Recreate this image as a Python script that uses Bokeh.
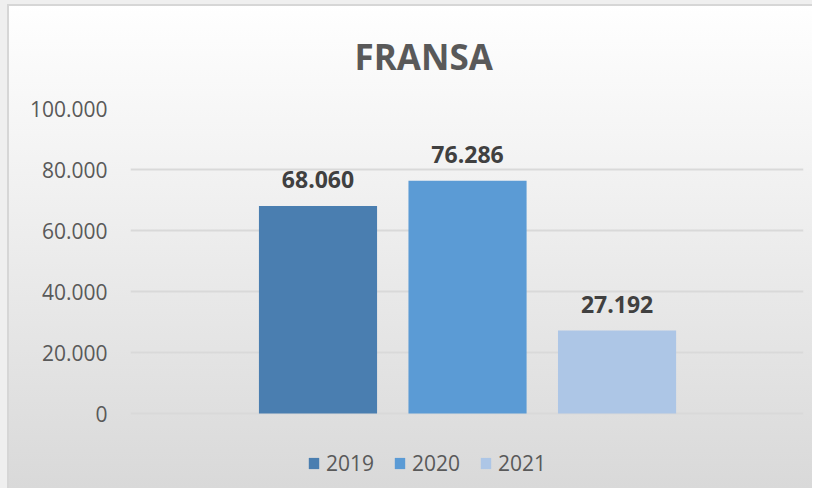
from bokeh.plotting import figure
from bokeh.models import ColumnDataSource, Range1d, Legend, LegendItem, CustomJSTickFormatter, FixedTicker
from bokeh.embed import file_html
from bokeh.resources import INLINE

title_text = "FRANSA"
years = ["2019", "2020", "2021"]
values = [68060, 76286, 27192]
labels = ["68.060", "76.286", "27.192"]
colors = ["#4a7eb0", "#5b9bd5", "#adc6e6"]
positions = [-1, 0, 1]
y_ticks = [0, 20000, 40000, 60000, 80000, 100000]

FONT = "Open Sans"

p = figure(width=812, height=488, output_backend="svg", toolbar_location=None,
           x_range=Range1d(-2.254, 2.247), y_range=Range1d(-21967, 100000),
           min_border_left=130, min_border_right=9, min_border_top=108, min_border_bottom=8,
           title=title_text)

p.styles = {"background-image": "linear-gradient(to bottom, #ffffff 0%, #f4f4f4 30%, #d9d9d9 100%)",
            "box-shadow": "inset 7px 4px 0 0 #efefef, inset 9px 6px 0 0 #d6d6d6"}
p.border_fill_alpha = 0
p.background_fill_alpha = 0
p.outline_line_color = None

p.title.text_font = FONT
p.title.text_font_size = "35px"
p.title.text_font_style = "bold"
p.title.text_color = "#595959"
p.title.align = "left"
p.title.offset = 224
p.title.standoff = 57

src = ColumnDataSource(dict(x=positions, top=values, color=colors, year=years, label=labels))

renderers = []
for i in range(len(years)):
    r = p.vbar(x=[positions[i]], top=[values[i]], width=0.79, color=colors[i], line_color=None)
    renderers.append(r)

p.text(x="x", y="top", text="label", source=src, text_align="center", text_baseline="alphabetic",
       y_offset=-26, text_font_size="23px", text_font_style="bold", text_color="#404040",
       text_font={"value": FONT})

p.xaxis.visible = False
p.xgrid.visible = False
p.ygrid.grid_line_color = "#d9d9d9"
p.ygrid.grid_line_width = 2
p.yaxis.ticker = FixedTicker(ticks=y_ticks)
p.ygrid.ticker = FixedTicker(ticks=y_ticks)
p.yaxis.formatter = CustomJSTickFormatter(code="return tick.toFixed(0).replace(/\\B(?=(\\d{3})+(?!\\d))/g, '.');")
p.yaxis.axis_line_color = None
p.yaxis.major_tick_line_color = None
p.yaxis.minor_tick_line_color = None
p.yaxis.major_label_standoff = 17
p.yaxis.major_label_text_font = FONT
p.yaxis.major_label_text_font_size = "21px"
p.yaxis.major_label_text_color = "#595959"

legend = Legend(items=[LegendItem(label=years[i], renderers=[renderers[i]]) for i in range(len(years))],
                orientation="horizontal", location=(177, 3),
                glyph_width=13, glyph_height=14, label_standoff=6, spacing=19,
                padding=0, margin=0, border_line_color=None, background_fill_alpha=0,
                label_text_font=FONT, label_text_font_size="21px", label_text_color="#595959",
                label_height=14)
p.add_layout(legend, "center")

open("out.html", "w").write(file_html(p, INLINE))
